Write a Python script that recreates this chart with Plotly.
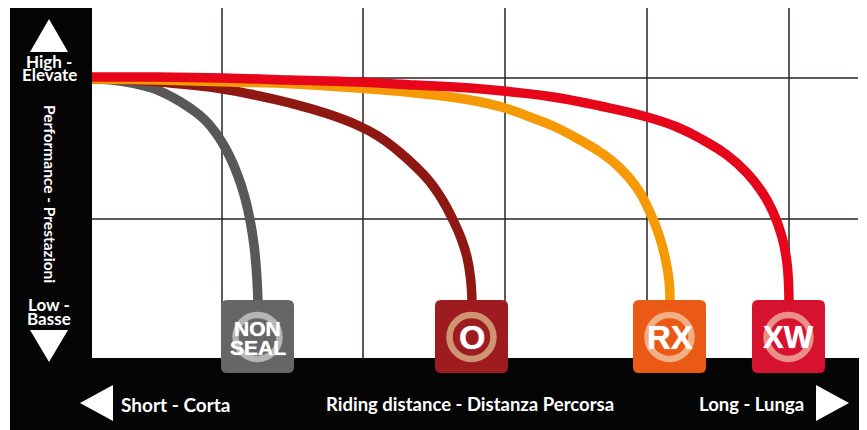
import plotly.graph_objects as go

W, H = 867, 430
grid_x = [222, 363, 505, 647, 789]
grid_y = [78, 219]

names = ["NON SEAL", "O", "RX", "XW"]
colors = ["#58585a", "#8f1813", "#f59a05", "#e60519"]
badge_colors = ["#666666", "#9e1c20", "#ea5a14", "#d7122f"]
ring_colors = ["#b5b5b5", "#cf9573", "#f2ae87", "#e99088"]
badge_left = [221, 435, 633, 752]
badge_sizes = [21, 34, 33, 31]

nonseal_x = [92, 112, 132, 152, 172, 190, 205, 218, 229, 238, 245, 250, 254, 256.5, 258]
nonseal_y = [79, 80, 83, 88, 97, 108, 120, 136, 155, 176, 198, 220, 245, 272, 302]
o_x = [92, 130, 170, 210, 250, 290, 325, 357, 378, 397, 415, 430, 443, 453, 461, 467, 470.5, 472]
o_y = [79, 80, 83, 87, 94, 103, 113, 125, 136, 150, 166, 182, 201, 220, 238, 257, 278, 302]
rx_x = [92, 160, 230, 295, 357, 415, 470, 505, 530, 553, 580, 603, 620, 637, 648, 658, 665, 669, 670]
rx_y = [79, 80, 82, 84, 88, 93, 100, 108, 117, 126, 140, 154, 168, 188, 208, 232, 257, 280, 302]
xw_x = [92, 157, 223, 290, 357, 415, 470, 512, 553, 600, 647, 677, 703, 727, 747, 762, 773, 782, 787, 789]
xw_y = [77, 77, 78, 80, 82, 85, 88, 92, 97, 106, 117, 127, 140, 155, 173, 192, 212, 237, 263, 302]
curves = [(nonseal_x, nonseal_y), (o_x, o_y), (rx_x, rx_y), (xw_x, xw_y)]

FONT = "Lato"
fig = go.Figure()
for n, c, (x, y) in zip(names, colors, curves):
    fig.add_trace(go.Scatter(x=x, y=y, name=n, mode="lines", hoverinfo="name",
                             line=dict(color=c, width=9.5, shape="spline", smoothing=1.3)))

shapes = []
for gx in grid_x:
    shapes.append(dict(type="line", x0=gx, x1=gx, y0=8, y1=358, layer="below",
                       line=dict(color="#2a2222", width=1.5)))
for gy in grid_y:
    shapes.append(dict(type="line", x0=92, x1=858, y0=gy, y1=gy, layer="below",
                       line=dict(color="#2a2222", width=1.5)))
shapes.append(dict(type="rect", x0=10, x1=92, y0=8, y1=430, fillcolor="#050505", line_width=0, layer="above"))
shapes.append(dict(type="rect", x0=10, x1=859, y0=358, y1=430, fillcolor="#050505", line_width=0, layer="above"))


def tri(points):
    return "M" + " L".join(f"{a},{b}" for a, b in points) + " Z"


for pts in ([(30, 52), (68, 52), (49, 19)], [(30, 330), (68, 330), (49, 362)],
            [(113, 385), (113, 421), (80, 403)], [(816, 385), (816, 421), (849, 403)]):
    shapes.append(dict(type="path", path=tri(pts), fillcolor="white", line_width=0, layer="above"))


def rrect(x, y, w, h, r):
    return (f"M{x+r},{y} L{x+w-r},{y} Q{x+w},{y} {x+w},{y+r} L{x+w},{y+h-r} Q{x+w},{y+h} {x+w-r},{y+h} "
            f"L{x+r},{y+h} Q{x},{y+h} {x},{y+h-r} L{x},{y+r} Q{x},{y} {x+r},{y} Z")


annotations = []
BOLD = "0 0 1px white"
for left, bc, rc, name, size in zip(badge_left, badge_colors, ring_colors, names, badge_sizes):
    shapes.append(dict(type="path", path=rrect(left, 300, 73, 73, 6), fillcolor=bc, line_width=0, layer="above"))
    cx = left + 36.5
    shapes.append(dict(type="circle", x0=cx-22, x1=cx+22, y0=315, y1=359, fillcolor="rgba(0,0,0,0)",
                       line=dict(color=rc, width=6.5), layer="above"))
    parts = name.split()
    ys = [328.5, 347] if len(parts) == 2 else [337]
    for part, yy in zip(parts, ys):
        annotations.append(dict(x=cx, y=yy, text=f"<b>{part}</b>", showarrow=False,
                                font=dict(family="Liberation Sans", size=size, color="white", shadow=BOLD)))


def txt(x, y, s, size, angle=0, anchor="center"):
    annotations.append(dict(x=x, y=y, text=f"<b>{s}</b>", showarrow=False, textangle=angle, xanchor=anchor,
                            borderpad=0, font=dict(family=FONT, size=size, color="white")))


txt(49, 61.5, "High -", 17)
txt(49, 74, "Elevate", 17)
txt(49, 304.5, "Low -", 17)
txt(49, 318, "Basse", 17)
txt(50, 194, "Performance - Prestazioni", 15.5, angle=90)
txt(120, 404, "Short - Corta", 19, anchor="left")
txt(470, 404, "Riding distance - Distanza Percorsa", 18.5)
txt(805, 404, "Long - Lunga", 18.5, anchor="right")

fig.update_layout(
    width=W, height=H, margin=dict(l=0, r=0, t=0, b=0), autosize=False,
    paper_bgcolor="white", plot_bgcolor="white", showlegend=False,
    xaxis=dict(range=[0, W], visible=False, fixedrange=True),
    yaxis=dict(range=[H, 0], visible=False, fixedrange=True),
    shapes=shapes, annotations=annotations,
)
fig.write_html("out.html", config={"displayModeBar": False},
               post_script="document.body.style.margin='0';document.body.style.overflow='hidden';")
